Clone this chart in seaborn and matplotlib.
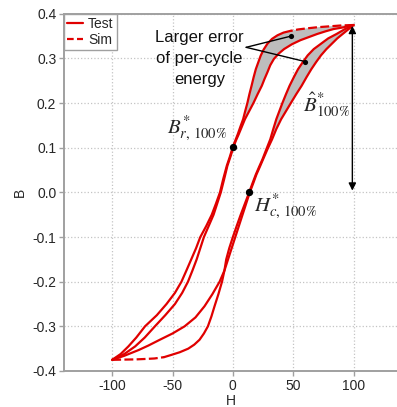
import numpy as np
import pandas as pd
import matplotlib
matplotlib.use("Agg")
import matplotlib.pyplot as plt
import seaborn as sns
from matplotlib.lines import Line2D

# ---------------- data ----------------
# Simulated descending branch (from +Hmax to -Hmax)
DS_H = [100, 90, 80, 70, 60, 54, 48, 42, 37, 32.5, 28.6, 25.5, 23, 21, 19, 17.2, 15.5, 13.7, 12, 10.2,
        8.5, 6.2, 4, 2, 0, -2.5, -5, -8, -10.7, -14, -17.5, -22, -27, -30.5, -34.5, -38.5, -42.6,
        -48, -55, -63, -72.8, -80, -86.6, -93, -100]
DS_B = [0.375, 0.374, 0.372, 0.370, 0.367, 0.365, 0.362, 0.358, 0.352, 0.344, 0.333, 0.320, 0.306, 0.291,
        0.276, 0.258, 0.239, 0.220, 0.200, 0.182, 0.164, 0.147, 0.130, 0.116, 0.102, 0.080, 0.060, 0.030,
        0.000, -0.025, -0.050, -0.075, -0.100, -0.125, -0.150, -0.175, -0.200, -0.225, -0.250, -0.275,
        -0.300, -0.325, -0.345, -0.362, -0.375]
# Test descending branch
DT_H = [100, 96, 92, 88, 83.5, 77, 70, 63, 56, 49, 42.4, 38, 34, 31, 28.6, 26.2, 24, 20.5, 17, 13.5,
        10, 7.4, 4.8, 2.5, 0.5, -2, -4.5, -7.2, -10, -13, -16, -20, -24, -27, -30, -33.5, -37.2,
        -42, -48, -56, -64.6, -73, -81, -90, -100]
DT_B = [0.375, 0.373, 0.370, 0.368, 0.366, 0.361, 0.355, 0.348, 0.341, 0.332, 0.321, 0.311, 0.299, 0.285,
        0.269, 0.254, 0.239, 0.220, 0.200, 0.182, 0.164, 0.147, 0.130, 0.116, 0.102, 0.080, 0.060, 0.030,
        0.000, -0.025, -0.050, -0.075, -0.100, -0.125, -0.150, -0.175, -0.200, -0.225, -0.250, -0.275,
        -0.300, -0.325, -0.345, -0.362, -0.375]
# Simulated ascending branch (from -Hmax to +Hmax)
AS_H = [-100, -90, -80, -72, -65, -57, -51, -44, -37, -32, -27.6, -24, -20.7, -17.8, -15.2, -12, -9,
        -7, -5.5, -3, 0, 3.2, 6.5, 10, 13.5, 16.2, 19, 21.7, 24.5, 27.8, 31, 33.5, 36, 41, 44, 47,
        50.5, 54, 58, 62, 67, 73, 79, 86, 93, 100]
AS_B = [-0.375, -0.3745, -0.374, -0.373, -0.372, -0.369, -0.364, -0.358, -0.350, -0.341, -0.330, -0.316,
        -0.300, -0.278, -0.255, -0.228, -0.200, -0.175, -0.150, -0.125, -0.100, -0.075, -0.050, -0.025,
        0.000, 0.020, 0.040, 0.057, 0.074, 0.097, 0.119, 0.142, 0.164, 0.200, 0.220, 0.239, 0.258,
        0.276, 0.292, 0.307, 0.321, 0.333, 0.345, 0.355, 0.366, 0.375]
# Test ascending branch
AT_H = [-100, -90, -78, -70, -60.5, -50, -40, -31, -23.5, -17, -11, -7, -4, -1, 2, 5, 8, 11, 14,
        16.8, 19.5, 22.3, 25, 28.7, 32.5, 36, 40, 48, 52.5, 57, 61, 65, 69, 73, 77.5, 82, 86.5, 91,
        96, 100]
AT_B = [-0.375, -0.366, -0.353, -0.343, -0.330, -0.316, -0.300, -0.280, -0.255, -0.228, -0.200, -0.175,
        -0.150, -0.125, -0.100, -0.075, -0.050, -0.025, 0.000, 0.020, 0.040, 0.057, 0.074, 0.097,
        0.119, 0.142, 0.164, 0.200, 0.220, 0.239, 0.258, 0.276, 0.292, 0.307, 0.321, 0.333, 0.345,
        0.355, 0.366, 0.375]

# characteristic points
BR_POINT = (0, 0.102)      # remanence
HC_POINT = (13.5, 0.0)     # coercivity

XTICKS = [-100, -50, 0, 50, 100]
XTICKLABELS = ["-100", "-50", "0", "50", "100"]
YTICKS = [-0.4, -0.3, -0.2, -0.1, 0.0, 0.1, 0.2, 0.3, 0.4]
YTICKLABELS = ["-0.4", "-0.3", "-0.2", "-0.1", "0.0", "0.1", "0.2", "0.3", "0.4"]

# ---------------- style ----------------
sns.set_theme(style="whitegrid")
plt.rcParams["font.family"] = ["Liberation Sans", "DejaVu Sans"]
plt.rcParams["axes.unicode_minus"] = False
plt.rcParams["mathtext.fontset"] = "stix"

RED = "#e00000"
GRAY = "#a0a0a0"
FILL = "#bdbdbd"
LW = 1.6
DASH = (0, (4, 1.5))

fig = plt.figure(figsize=(3.97, 4.07), dpi=100)
ax = fig.add_axes([0.161, 0.0885, 0.839, 0.8775])

# shaded error regions
def region(h1, b1, h2, b2, bmin):
    p1 = [(h, b) for h, b in zip(h1, b1) if b >= bmin]
    p2 = [(h, b) for h, b in zip(h2, b2) if b >= bmin][::-1]
    pts = p1 + p2
    return [p[0] for p in pts], [p[1] for p in pts]

gx, gy = region(DS_H, DS_B, DT_H, DT_B, 0.147)
ax.fill(gx, gy, color=FILL, lw=0, zorder=1)
gx, gy = region(AS_H, AS_B, AT_H, AT_B, 0.119)
ax.fill(gx, gy, color=FILL, lw=0, zorder=1)

def line(h, b, ls="-"):
    sns.lineplot(x=h, y=b, sort=False, estimator=None, color=RED, lw=LW,
                 linestyle=ls, ax=ax, zorder=3)

# test loop (solid)
line(DT_H, DT_B)
line(AT_H, AT_B)
# sim loop: dashed near saturation, solid elsewhere
line(DS_H[:7], DS_B[:7], ls=DASH)
line(DS_H[6:], DS_B[6:])
line(AS_H[:6], AS_B[:6], ls=DASH)
line(AS_H[5:], AS_B[5:])

# characteristic points
ax.scatter([BR_POINT[0], HC_POINT[0]], [BR_POINT[1], HC_POINT[1]], s=28,
           color="black", zorder=5, linewidths=0)

# annotation of error regions
ax.plot([11, 48], [0.325, 0.350], color="black", lw=1, zorder=6)
ax.plot([11, 60], [0.325, 0.293], color="black", lw=1, zorder=6)
ax.scatter([48, 60], [0.350, 0.293], s=14, color="black", zorder=6, linewidths=0)
ax.text(-27.5, 0.301, "Larger error\nof per-cycle\nenergy", ha="center", va="center",
        fontsize=12, linespacing=1.5, color="#111111", zorder=6)

# double arrow for peak B
ax.annotate("", xy=(99, 0.373), xytext=(99, 0.004),
            arrowprops=dict(arrowstyle="<|-|>", color="black", lw=1, mutation_scale=11,
                            shrinkA=0, shrinkB=0), zorder=6)

ax.text(-54.7, 0.132, r"$B^{*}_{r,\,\mathrm{100\%}}$", fontsize=15, ha="left", va="baseline")
ax.text(17.5, -0.043, r"$H^{*}_{c,\,\mathrm{100\%}}$", fontsize=15, ha="left", va="baseline")
ax.text(58.5, 0.180, r"$\hat{B}^{*}_{\mathrm{100\%}}$", fontsize=15, ha="left", va="baseline")

# axes
ax.set_xlim(-140, 136)
ax.set_ylim(-0.4, 0.4)
ax.set_xticks(XTICKS)
ax.set_xticklabels(XTICKLABELS)
ax.set_yticks(YTICKS)
ax.set_yticklabels(YTICKLABELS)
ax.set_xlabel("H", fontsize=10, labelpad=1)
ax.set_ylabel("B", fontsize=10, labelpad=4)
ax.tick_params(axis="both", labelsize=10, length=3.5, width=1, color=GRAY,
               direction="out", pad=2, bottom=True, left=True)
ax.grid(True, linestyle=":", color="#c4c4c4", lw=0.9)
ax.set_facecolor("white")
for s in ["left", "bottom", "top"]:
    ax.spines[s].set_color(GRAY)
    ax.spines[s].set_linewidth(1.4)
ax.spines["right"].set_visible(False)

handles = [Line2D([0], [0], color=RED, lw=LW, ls="-"),
           Line2D([0], [0], color=RED, lw=LW, ls=(0, (3, 1.5)))]
leg = ax.legend(handles, ["Test", "Sim"], loc="upper left", borderaxespad=0,
                fontsize=10, handlelength=1.1, handletextpad=0.4, borderpad=0.25,
                labelspacing=0.1, fancybox=False, framealpha=1, edgecolor=GRAY)
leg.get_frame().set_linewidth(1.0)

fig.savefig("out.png", dpi=100)
